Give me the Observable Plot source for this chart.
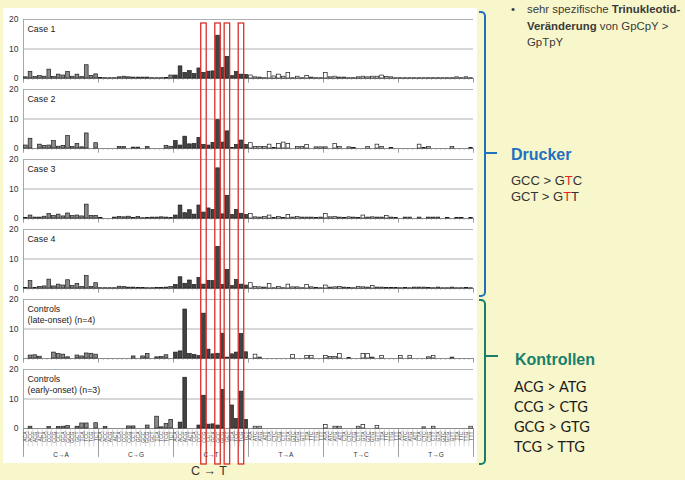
<!DOCTYPE html>
<html><head><meta charset="utf-8">
<script src="https://cdn.jsdelivr.net/npm/d3@7"></script>
<script src="https://cdn.jsdelivr.net/npm/@observablehq/plot@0.6"></script>
<style>
html,body{margin:0;padding:0;}
body{width:685px;height:480px;overflow:hidden;background:#f8f6cb;position:relative;font-family:"Liberation Sans",Arial,sans-serif;}
#chart,#boxes{position:absolute;left:3px;top:8px;}
#boxes{pointer-events:none;}
svg{display:block;overflow:visible;}
.t{position:absolute;white-space:nowrap;}
.brk{position:absolute;border-style:solid;border-left:none;border-radius:0 5px 5px 0;box-sizing:content-box;}
.notch{position:absolute;height:2px;}
</style></head><body>
<div id="chart"></div>
<div id="boxes"></div>

<div class="t" style="left:511px;top:1px;font-size:11.4px;line-height:16.5px;color:#3a3a3a;">•</div>
<div class="t" style="left:527px;top:1px;font-size:11.4px;line-height:16.5px;color:#3a3a3a;">
sehr spezifische <b>Trinukleotid-</b><br><b>Veränderung</b> von GpCpY &gt;<br>GpTpY</div>

<div class="brk" style="left:479px;top:11px;width:5px;height:282px;border-width:2px;border-color:#1f70c1;"></div>
<div class="notch" style="left:486px;top:152px;width:11px;background:#1f70c1;"></div>
<div class="t" style="left:511px;top:147px;font-size:16px;line-height:16px;font-weight:bold;color:#1f70c1;">Drucker</div>
<div class="t" style="left:511px;top:173px;font-size:13px;line-height:16px;color:#333;">GCC &gt; G<span style="color:#e8221c">T</span>C<br>GCT &gt; G<span style="color:#e8221c">T</span>T</div>

<div class="brk" style="left:479px;top:299px;width:5px;height:162px;border-width:2px;border-color:#17806a;"></div>
<div class="notch" style="left:486px;top:355px;width:12px;background:#17806a;"></div>
<div class="t" style="left:515px;top:352px;font-size:16px;line-height:16px;font-weight:bold;color:#17806a;">Kontrollen</div>
<div class="t" style="left:514px;top:377px;font-family:Lato,'Open Sans',sans-serif;font-size:14.5px;line-height:20px;color:#1a1a1a;">ACG &gt; ATG<br>CCG &gt; CTG<br>GCG &gt; GTG<br>TCG &gt; TTG</div>

<div class="t" style="left:191px;top:465px;font-size:12.5px;line-height:13px;color:#333;">C → T</div>

<script>
// ---- categories ----
const mutationTypes = ["C>A","C>G","C>T","T>A","T>C","T>G"];
const typeLabels = ["C→A","C→G","C→T","T→A","T→C","T→G"];
const flank5 = ["A","C","G","T"];
const flank3 = ["A","C","G","T"];
const panelNames = ["Case 1","Case 2","Case 3","Case 4","Controls\n(late-onset) (n=4)","Controls\n(early-onset) (n=3)"];
const yTicks = [0, 10, 20];
const gridValues = [10, 20];
const boxedBars = [38, 41, 43, 46];
const typeFills = ["#8a8a8a","#8a8a8a","#434343","#ffffff","#ffffff","#ffffff"];

// ---- series values (96 trinucleotide contexts each) ----
const case1 = [
 0.4,2.2,0.5,0.8,0.6,3.0,0.5,1.3,1.0,2.2,0.6,1.3,0.5,4.5,0.8,1.4,
 0.2,0.1,0.1,0.1,0.4,0.6,0.4,0.3,0.3,0.3,0.3,0.1,0.1,0.1,0.2,1.0,
 1.0,4.1,1.9,2.5,1.5,3.4,1.9,2.3,2.4,14.5,3.6,7.3,0.8,2.2,1.3,1.2,
 1.0,0.4,0.3,0.1,2.2,0.7,1.3,0.6,1.9,0.1,0.6,0.1,0.8,0.3,0.1,0.1,
 1.9,0.4,0.6,0.3,0.3,0.1,0.1,0.4,0.6,0.4,0.6,0.6,1.0,0.5,0.4,0.1,
 0.1,0.1,0.1,0.1,0.1,0.1,0.1,0.1,0.1,0.1,0.1,0.1,0.4,0.1,0.4,0.1];
const case2 = [
 1.0,3.3,0,1.3,0.9,1.0,2.5,0.6,0.9,4.2,0.5,1.5,0.4,5.1,0,1.8,
 0,0,0,0,0.5,0.5,0,0.3,0.3,0,0.5,0,0,0,0.9,0.6,
 2.5,1.0,4.0,1.4,1.5,3.6,1.2,1.0,1.9,9.6,2.0,5.8,0.2,1.2,2.7,1.2,
 1.8,0.5,0.5,0.5,1.3,0.2,1.5,2.0,1.5,0,0.5,0.5,1.2,0,0.4,0.4,
 0.4,0,1.5,0.5,0,0.4,0.2,0,0,0.5,0,1.3,0.5,0,0.2,0,
 0,0,0,0,1.3,0.2,0.5,0,0,0,0,0.5,0,0,0,0.2];
const case3 = [
 0.2,1.0,0.3,0.3,0.6,1.5,0.8,1.3,0.7,1.7,0.8,1.0,0.7,4.7,0.8,0.9,
 0.2,0,0,0.3,0.5,0.4,0.6,0.2,0.5,0.1,0.2,0.3,0.3,0.4,0.3,0.2,
 1.0,4.4,1.8,2.8,1.3,4.4,2.0,3.4,2.9,17.0,1.4,7.7,1.2,2.9,1.6,1.2,
 1.5,0.4,0.3,0.5,1.0,0.2,0.5,0.2,1.2,0.3,0.5,0.3,0.3,0.3,0.2,0.3,
 1.5,0.4,0.5,0.3,0.2,0.4,0.3,0.2,1.0,0.3,0.4,0.3,0.3,0.8,0.3,0.2,
 0,0.3,0.3,0,0.3,0,0.3,0.3,0.3,0,0.2,0,0.2,0.2,0,0.2];
const case4 = [
 0.2,2.5,0.2,0.5,0.7,3.0,0.7,1.3,1.0,2.8,0.8,1.5,0.5,4.2,0.5,1.8,
 0.1,0.1,0.1,0.1,0.6,0.5,0.3,0.3,0.2,0.2,0.1,0.1,0.2,0.2,0.3,0.5,
 1.2,3.8,1.6,2.7,1.2,3.6,1.3,2.6,2.5,14.1,1.2,6.3,0.8,2.9,1.3,1.0,
 1.8,0.5,0.4,0.3,1.5,0.1,0.5,0.1,1.3,0.4,0.4,0.1,1.2,0.4,0.2,0.1,
 1.0,0.3,0.4,0.5,0.3,0.2,0.1,0.5,0.4,0.3,0.8,0.3,0.3,0.2,0.2,0.2,
 0.1,0.2,0.1,0.3,0.3,0.3,0.2,0.1,0.3,0.1,0.1,0.3,0.1,0.1,0.2,0.1];
const ctrlLate = [
 0,1.0,1.1,0.6,0,0,2.0,1.5,1.3,0.4,0,1.0,0.7,1.7,1.6,1.3,
 0,0,0,0,0,0,0,0.7,0,0.7,1.5,0,0.4,0.5,1.1,0,
 2.0,2.4,16.6,1.5,1.2,0.8,15.2,3.0,1.4,1.6,8.4,0.3,1.4,2.0,8.3,2.1,
 0,1.3,0.3,0,0,0,0,0,0,1.2,0,0,0.8,0.8,0,0,
 0.8,0.5,0.5,1.5,0,0.2,0,0,1.5,1.5,0.3,0,0.8,0,0,0,
 0.8,0,0.8,0,0,0,0.4,0.8,0,0,0,0.3,0,0,0,0];
const ctrlEarly = [
 0,0.6,0,0,0,0.5,0,0.5,0.6,0.8,0,0.6,1.7,1.7,0,1.8,
 0,0.5,0,0,0,0,0.7,0.7,0,0,1.0,0,4.0,0.4,1.5,2.9,
 0,2.0,17.2,0,0,1.0,11.1,1.3,1.4,1.0,13.1,0,7.8,3.2,12.5,2.9,
 0,0.6,0.6,0,0,0,0,0,0,0,0,0,0,0,0,0,
 1.2,0,0.6,0.6,0,0,0,0.6,1.2,0,0,0.9,0,0,0,0,
 0,0,0,0,0,0.4,0,0.6,0,0,0,0,0,0,0,0.6];

const series = [case1, case2, case3, case4, ctrlLate, ctrlEarly];

// ---- table built from the arrays ----
const rows = [];
series.forEach((vals, p) => vals.forEach((v, i) => {
  const t = mutationTypes[Math.floor(i / 16)];
  const k = i % 16;
  rows.push({panel: panelNames[p], i, value: v, type: t,
             label: flank5[Math.floor(k / 4)] + t[0] + flank3[k % 4]});
}));
const lastPanel = panelNames[panelNames.length - 1];
const upperPanels = panelNames.slice(0, panelNames.length - 1);
const edges = d3.range(0, 97);
const groupEdges = d3.range(0, 97, 16);
const upperTicks = upperPanels.flatMap(p => edges.map(e => ({panel: p, e})));
const upperGroupTicks = upperPanels.flatMap(p => groupEdges.map(e => ({panel: p, e})));
const lastTicks = edges.map(e => ({panel: lastPanel, e}));
const lastGroupTicks = groupEdges.map(e => ({panel: lastPanel, e}));
const lastRows = rows.filter(d => d.panel === lastPanel);
const groups = typeLabels.map((label, j) => ({label, mid: j * 16 + 8, panel: lastPanel}));

const chart = Plot.plot({
  width: 474, height: 455,
  marginLeft: 20, marginRight: 4, marginTop: 11, marginBottom: 35,
  style: {background: "white", fontFamily: "'Liberation Sans', Arial, sans-serif", fontSize: "8.5px", color: "#333", overflow: "visible"},
  x: {domain: [0, 96], axis: null},
  y: {domain: [0, 20], ticks: yTicks, tickSize: 0, tickPadding: 5, label: null},
  fy: {domain: panelNames, paddingInner: 11 / 70, paddingOuter: 0, round: false, axis: null, label: null},
  color: {domain: mutationTypes, range: typeFills},
  marks: [
    Plot.ruleY(gridValues, {stroke: "#b0b0b0", strokeWidth: 1}),
    Plot.ruleY([0], {stroke: "#8a8a8a", strokeWidth: 1}),
    Plot.ruleX([0], {y1: 0, y2: 20, stroke: "#a8a8a8"}),
    Plot.ruleX(upperTicks, {x: "e", y1: 0, y2: -0.7, fy: "panel", stroke: "#999", strokeWidth: 0.6}),
    Plot.ruleX(upperGroupTicks, {x: "e", y1: 0, y2: -1.6, fy: "panel", stroke: "#888", strokeWidth: 0.8}),
    Plot.ruleX(lastTicks, {x: "e", y1: 0, y2: -6.2, fy: "panel", stroke: "#aaa", strokeWidth: 0.5}),
    Plot.ruleX(lastGroupTicks, {x: "e", y1: 0, y2: -9.8, fy: "panel", stroke: "#888", strokeWidth: 0.8}),
    Plot.rect(rows.filter(d => d.value > 0), {x1: "i", x2: d => d.i + 1, y1: 0, y2: "value", fy: "panel",
      fill: "type", stroke: "#1c1c1c", strokeWidth: 0.7, insetLeft: 0.5, insetRight: 0.5}),
    Plot.text(panelNames, {fy: d => d, text: d => d, frameAnchor: "top-left", dx: 4, dy: 5,
      lineAnchor: "top", textAnchor: "start", fontSize: 8.8, lineHeight: 1.25, fill: "#1a1a1a"}),
    Plot.text(lastRows, {x: d => d.i + 0.5, y: 0, fy: "panel", text: "label", rotate: -90,
      textAnchor: "end", dy: 3, fontSize: 5, fill: "#444"}),
    Plot.text(groups, {x: "mid", y: 0, fy: "panel", text: "label", dy: 26, fontSize: 6.5, fill: "#333"})
  ]
});
document.getElementById("chart").appendChild(chart);

const overlay = Plot.plot({
  width: 474, height: 470,
  marginLeft: 20, marginRight: 4, marginTop: 15, marginBottom: 14,
  style: {background: "transparent", overflow: "visible"},
  x: {domain: [0, 96], axis: null},
  y: {domain: [0, 1], axis: null},
  marks: [
    Plot.rect(boxedBars, {x1: d => d, x2: d => d + 1, y1: 0, y2: 1, fill: "none",
      stroke: "#d8322a", strokeWidth: 1.3, insetLeft: -0.4, insetRight: -0.4})
  ]
});
document.getElementById("boxes").appendChild(overlay);
</script>
</body></html>
